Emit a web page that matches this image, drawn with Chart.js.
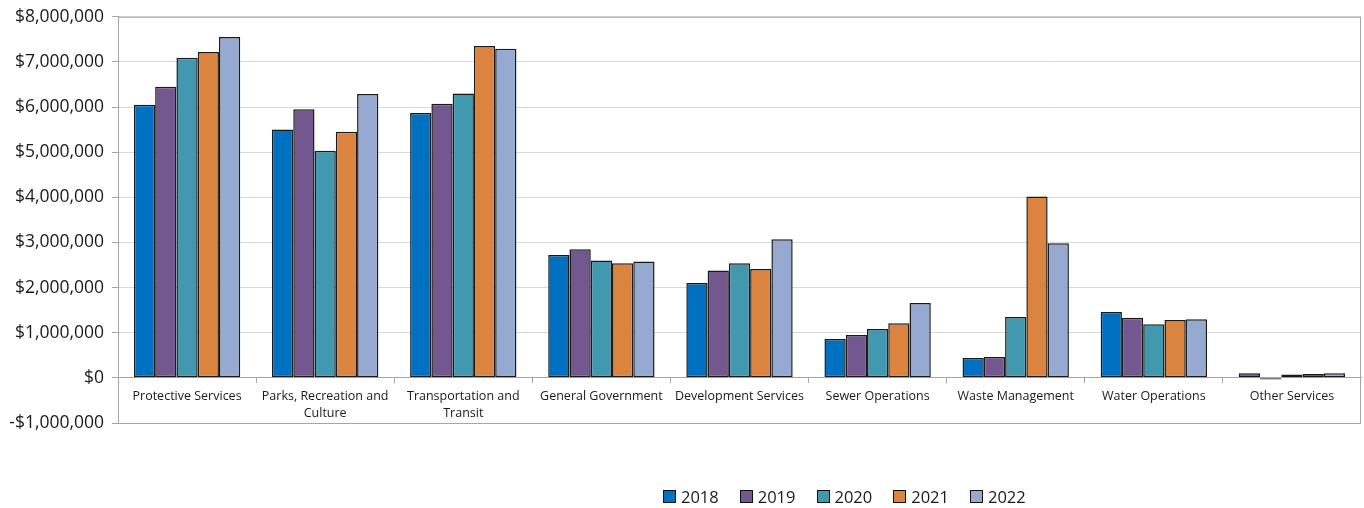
<!DOCTYPE html>
<html>
<head>
<meta charset="utf-8">
<script src="https://cdn.jsdelivr.net/npm/chart.js@4"></script>
<style>
  html, body { margin: 0; padding: 0; background: #fff; }
  #wrap { position: relative; width: 1364px; height: 508px; }
  #legend { position: absolute; left: 663px; top: 485px; display: flex; align-items: center;
    font-family: "Open Sans", sans-serif; font-size: 16.5px; color: #1a1a1a; }
  #legend span.item { display: flex; align-items: center; margin-right: 21px; }
  #legend span.box { width: 11px; height: 11px; border: 1px solid #111; margin-right: 5px; }
</style>
</head>
<body>
<div id="wrap">
  <canvas id="chart" width="1364" height="508"></canvas>
  <div id="legend"></div>
</div>
<script>
const categories = [
  'Protective Services',
  ['Parks, Recreation and', 'Culture'],
  ['Transportation and', 'Transit'],
  'General Government',
  'Development Services',
  'Sewer Operations',
  'Waste Management',
  'Water Operations',
  'Other Services'
];
const years = ['2018', '2019', '2020', '2021', '2022'];
const colors = ['#0070C0', '#73588F', '#4198AF', '#DA843F', '#95A9D1'];

const values2018 = [6050000, 5500000, 5870000, 2720000, 2100000, 860000, 440000, 1460000, 100000];
const values2019 = [6450000, 5950000, 6070000, 2850000, 2380000, 950000, 460000, 1330000, -35000];
const values2020 = [7090000, 5030000, 6300000, 2600000, 2540000, 1080000, 1350000, 1190000, 75000];
const values2021 = [7220000, 5450000, 7350000, 2540000, 2410000, 1210000, 4020000, 1280000, 85000];
const values2022 = [7550000, 6290000, 7290000, 2580000, 3070000, 1660000, 2980000, 1300000, 100000];
const series = [values2018, values2019, values2020, values2021, values2022];

const font = '"Open Sans", sans-serif';

// cadre gris autour de la zone du graphique
const frame = {
  id: 'frame',
  afterDraw(chart) {
    const a = chart.chartArea, c = chart.ctx;
    c.save();
    c.strokeStyle = '#A6A6A6';
    c.lineWidth = 1;
    c.strokeRect(a.left + 0.5, a.top + 0.5, a.right - a.left - 1, a.bottom - a.top);
    c.restore();
  }
};

const chart = new Chart(document.getElementById('chart'), {
  type: 'bar',
  data: {
    labels: categories,
    datasets: years.map((y, i) => ({
      label: y,
      data: series[i],
      backgroundColor: colors[i],
      borderColor: '#1a1a1a',
      borderWidth: 1.5,
      borderSkipped: false,
      categoryPercentage: 0.77,
      barPercentage: 1.0
    }))
  },
  options: {
    responsive: false,
    animation: false,
    layout: { padding: { top: 15, right: 3, bottom: 85, left: 0 } },
    plugins: {
      legend: { display: false },
      tooltip: { enabled: false }
    },
    scales: {
      x: {
        position: { y: 0 },
        grid: { offset: true, drawOnChartArea: false, drawTicks: true, tickLength: 5, color: '#A6A6A6' },
        border: { color: '#A6A6A6', width: 1 },
        ticks: { font: { family: font, size: 12.5, lineHeight: 1.35 }, color: '#1a1a1a', padding: 5, maxRotation: 0, autoSkip: false }
      },
      y: {
        min: -1000000,
        max: 8000000,
        grid: { color: '#D9D9D9', drawTicks: true, tickLength: 6, tickColor: '#A6A6A6' },
        border: { color: '#A6A6A6' },
        ticks: {
          stepSize: 1000000,
          font: { family: font, size: 17.5, lineHeight: 1.0 },
          color: '#1a1a1a',
          padding: 8,
          callback: v => (v < 0 ? '-$' : '$') + Math.abs(v).toLocaleString('en-US')
        },
        afterFit(scale) { scale.width = 118; }
      }
    }
  },
  plugins: [frame]
});

const legend = document.getElementById('legend');
years.forEach((y, i) => {
  const item = document.createElement('span');
  item.className = 'item';
  item.innerHTML = '<span class="box" style="background:' + colors[i] + '"></span>' + y;
  legend.appendChild(item);
});
</script>
</body>
</html>
